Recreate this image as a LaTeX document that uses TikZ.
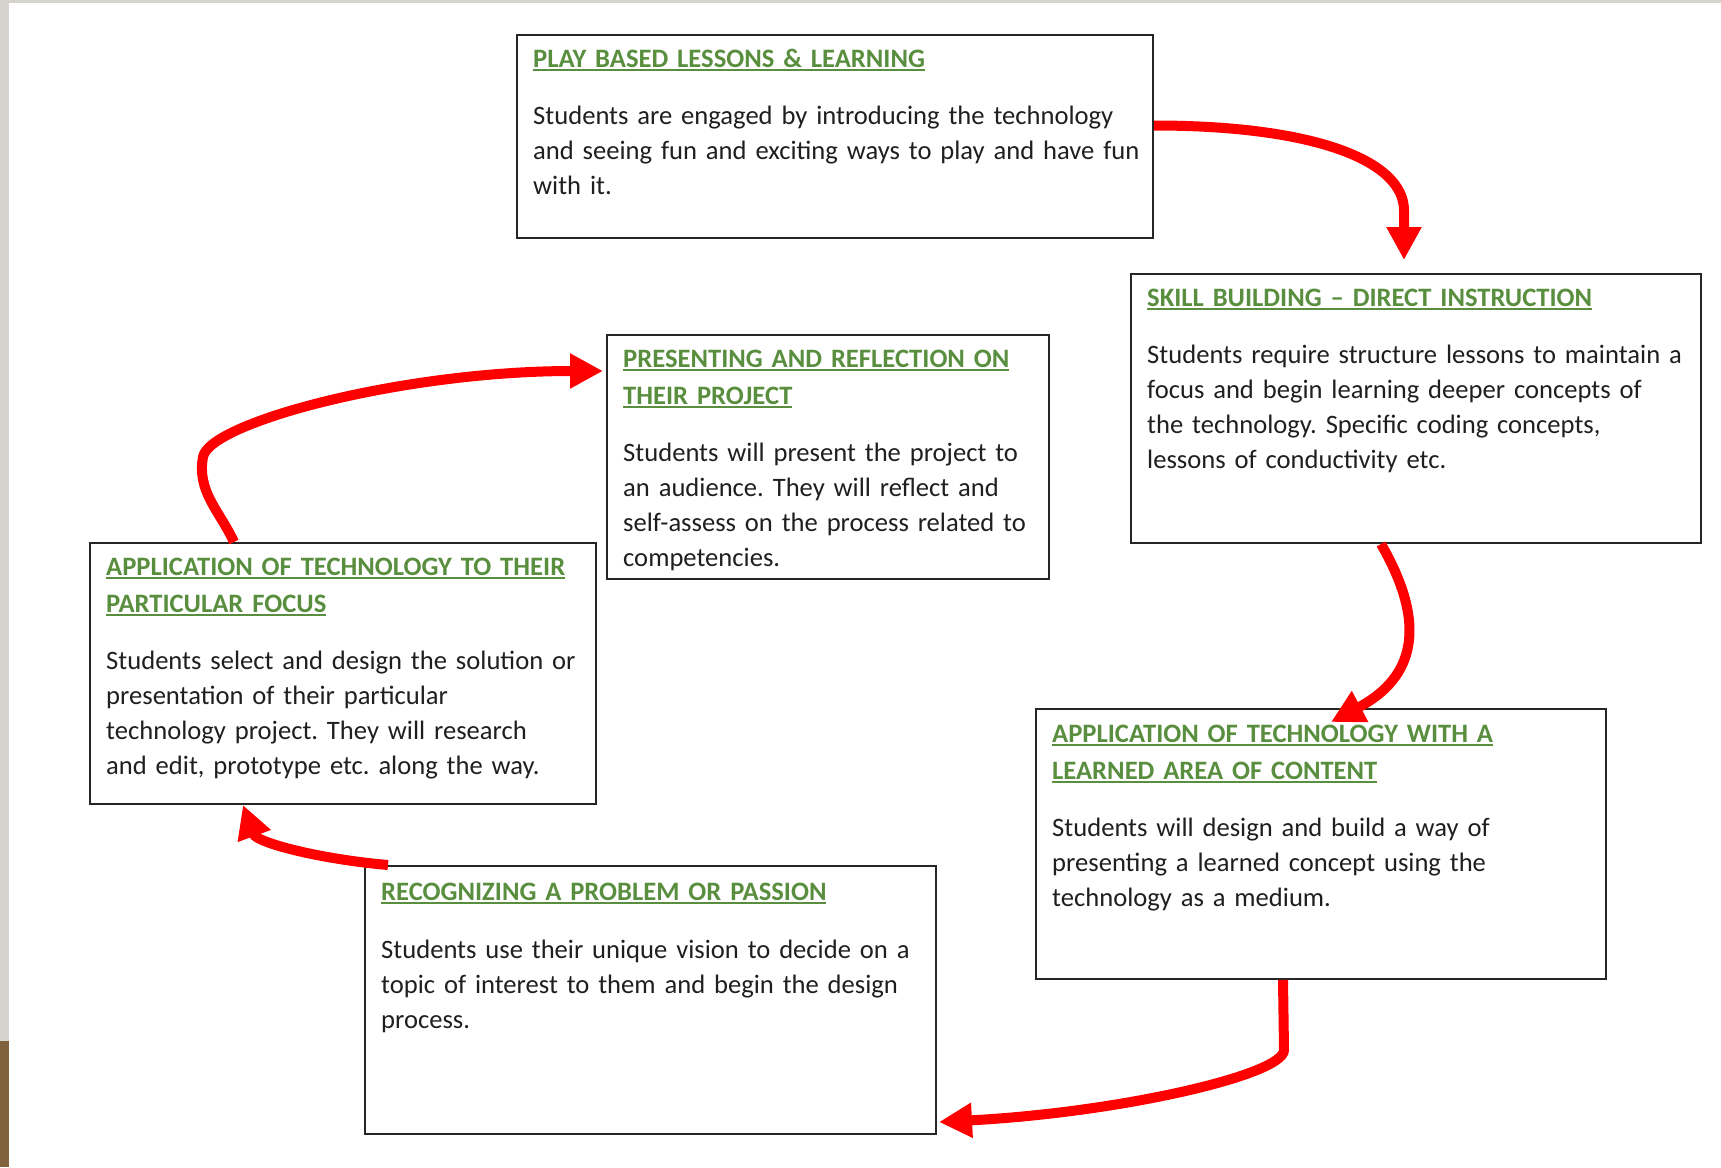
\documentclass[tikz,border=0pt]{standalone}
\usepackage{fontspec}
\setmainfont{Carlito}
\usepackage{xcolor}
\usepackage{tikz}
\usetikzlibrary{arrows.meta, positioning}
\definecolor{titlegreen}{RGB}{88,142,62}
\definecolor{arrowred}{RGB}{255,0,0}
\definecolor{framegrey}{RGB}{214,211,205}
\definecolor{wood}{RGB}{128,98,60}
\newcommand{\headline}[1]{\setbox0\hbox{#1}\rlap{\rule[-3.5pt]{\wd0}{1.8pt}}\box0}
\tikzset{
    stage/.style={draw=black!85, line width=2pt, anchor=north west, inner sep=0pt},
    stagetext/.style={anchor=base west, inner sep=0pt, align=left, text=black!88,
        font=\fontsize{26.6pt}{35.3pt}\selectfont\frenchspacing},
    flow/.style={draw=arrowred, line width=10pt, -{Triangle[length=33pt, width=33pt]}}
}
\newcommand{\stagetitle}[1]{\textcolor{titlegreen}{\bfseries\headline{#1}}}

\begin{document}
\begin{tikzpicture}[x=1pt, y=1pt]
    \useasboundingbox (0,0) rectangle (1721,-1167);
    % screen edge
    \fill[framegrey] (0,0) rectangle (9,-1167);
    \fill[framegrey] (0,0) rectangle (1721,-3);
    \fill[wood] (0,-1041) rectangle (9,-1167);
    % boxes
    \node[stage, minimum width=636, minimum height=203] (play) at (516,-34) {};
    \node[stage, minimum width=570, minimum height=269] (skill) at (1130,-273) {};
    \node[stage, minimum width=570, minimum height=270] (content) at (1035,-708) {};
    \node[stage, minimum width=571, minimum height=268] (recog) at (364,-865) {};
    \node[stage, minimum width=506, minimum height=261] (focus) at (89,-542) {};
    \node[stage, minimum width=442, minimum height=244] (present) at (606,-334) {};
    % texts
    \node[stagetext, text width=640pt] (play-text) at ([xshift=17pt,yshift=-33pt]play.north west)
        {\stagetitle{PLAY BASED LESSONS \& LEARNING}\\[21.7pt]
         Students are engaged by introducing the technology\\
         and seeing fun and exciting ways to play and have fun\\
         with it.};
    \node[stagetext, text width=560pt] (skill-text) at ([xshift=17pt,yshift=-33pt]skill.north west)
        {\stagetitle{SKILL BUILDING – DIRECT INSTRUCTION}\\[21.7pt]
         Students require structure lessons to maintain a\\
         focus and begin learning deeper concepts of\\
         the technology. Specific coding concepts,\\
         lessons of conductivity etc.};
    \node[stagetext, text width=560pt] (content-text) at ([xshift=17pt,yshift=-34pt]content.north west)
        {\stagetitle{APPLICATION OF TECHNOLOGY WITH A}\\[1.7pt]
         \stagetitle{LEARNED AREA OF CONTENT}\\[21.7pt]
         Students will design and build a way of\\
         presenting a learned concept using the\\
         technology as a medium.};
    \node[stagetext, text width=560pt] (recog-text) at ([xshift=17pt,yshift=-35pt]recog.north west)
        {\stagetitle{RECOGNIZING A PROBLEM OR PASSION}\\[22.7pt]
         Students use their unique vision to decide on a\\
         topic of interest to them and begin the design\\
         process.};
    \node[stagetext, text width=500pt] (focus-text) at ([xshift=17pt,yshift=-33pt]focus.north west)
        {\stagetitle{APPLICATION OF TECHNOLOGY TO THEIR}\\[1.7pt]
         \stagetitle{PARTICULAR FOCUS}\\[21.7pt]
         Students select and design the solution or\\
         presentation of their particular\\
         technology project. They will research\\
         and edit, prototype etc. along the way.};
    \node[stagetext, text width=430pt] (present-text) at ([xshift=17pt,yshift=-33pt]present.north west)
        {\stagetitle{PRESENTING AND REFLECTION ON}\\[1.7pt]
         \stagetitle{THEIR PROJECT}\\[21.7pt]
         Students will present the project to\\
         an audience. They will reflect and\\
         self-assess on the process related to\\
         competencies.};
    % cycle arrows
    \draw[flow] ([yshift=11pt]play.east) to[out=0, in=90, out distance=160pt, in distance=50pt] ++(250pt,-85pt)
        -- ([xshift=-12pt,yshift=13pt]skill.north);
    \draw[flow] ([xshift=-35pt]skill.south) to[out=-60, in=28, out distance=105pt, in distance=85pt]
        ([xshift=10pt,yshift=-14pt]content.north);
    \draw[flow] ([xshift=-38pt]content.south) -- ++(1pt,-70pt)
        to[out=-90, in=3, out distance=25pt, in distance=180pt] ([xshift=2pt,yshift=13pt]recog.south east);
    \draw[flow] ([xshift=24pt]recog.north west) to[out=175, in=-70, out distance=70pt, in distance=40pt]
        ([xshift=-100pt]focus.south);
    \draw[flow] ([xshift=-109pt]focus.north) to[out=115, in=-100] ++(-31pt,85pt)
        to[out=80, in=180, out distance=35pt, in distance=200pt] ([xshift=-3pt,yshift=-37pt]present.north west);
\end{tikzpicture}
\end{document}
